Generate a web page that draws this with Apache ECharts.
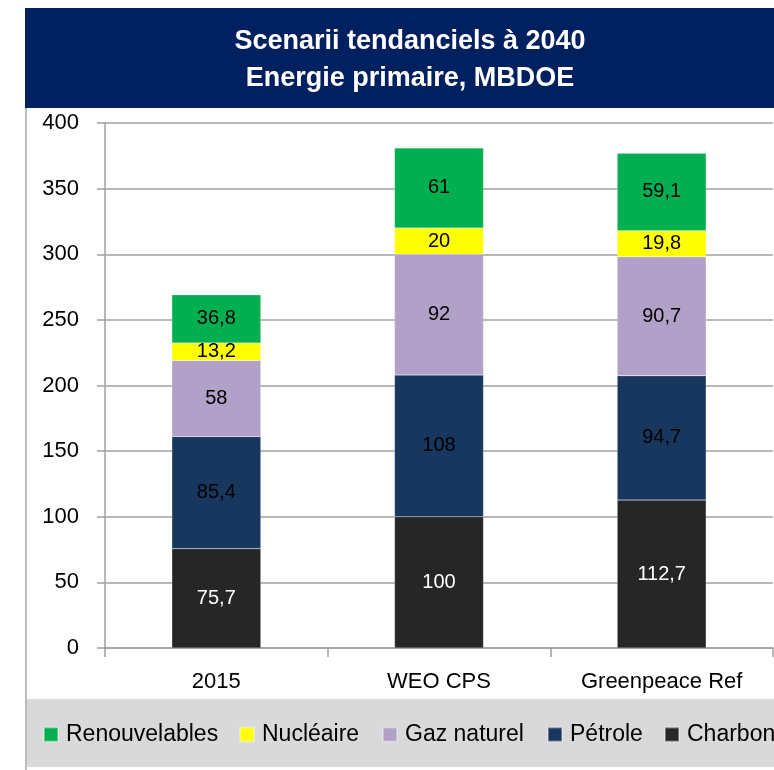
<!DOCTYPE html>
<html>
<head>
<meta charset="utf-8">
<script src="https://cdn.jsdelivr.net/npm/echarts@6/dist/echarts.min.js"></script>
<style>
html,body{margin:0;padding:0;background:#fff;}
#chart{width:774px;height:770px;}
</style>
</head>
<body>
<div id="chart"></div>
<script>
const categories = ['2015', 'WEO CPS', 'Greenpeace Ref'];
const charbon = [75.7, 100, 112.7];
const petrole = [85.4, 108, 94.7];
const gaz = [58, 92, 90.7];
const nucleaire = [13.2, 20, 19.8];
const renouvelables = [36.8, 61, 59.1];
const yTicks = [0, 50, 100, 150, 200, 250, 300, 350, 400];

const FONT = 'Liberation Sans';
const chart = echarts.init(document.getElementById('chart'));

function mk(name, data, color, labelColor) {
  return {
    name: name, type: 'bar', stack: 'total', data: data, barWidth: 89,
    itemStyle: { color: color, borderColor: 'rgba(255,255,255,0.35)', borderWidth: 0.5 },
    label: {
      show: true, position: 'inside', color: labelColor, fontFamily: FONT, fontSize: 20,
      formatter: p => String(p.value).replace('.', ',')
    },
    emphasis: { disabled: true }
  };
}

const legendPos = [
  ['Renouvelables', 43],
  ['Nucléaire', 239],
  ['Gaz naturel', 382],
  ['Pétrole', 547],
  ['Charbon', 664]
];

chart.setOption({
  animation: false,
  backgroundColor: '#fff',
  graphic: [
    { type: 'rect', shape: { x: 25, y: 8, width: 749, height: 100 }, style: { fill: '#002060' }, z: 0 },
    { type: 'rect', shape: { x: 27, y: 699, width: 747, height: 68 }, style: { fill: '#d9d9d9' }, z: 0 },
    { type: 'line', shape: { x1: 26, y1: 108, x2: 26, y2: 770 }, style: { stroke: '#a6a6a6', lineWidth: 1.5 }, z: 0 }
  ],
  title: {
    text: 'Scenarii tendanciels à 2040\nEnergie primaire, MBDOE',
    left: 405, textAlign: 'center', top: 18,
    textStyle: { color: '#fff', fontFamily: FONT, fontWeight: 'bold', fontSize: 27, lineHeight: 37 }
  },
  legend: legendPos.map(([n, x]) => ({
    data: [n], left: x, top: 723, padding: 0, itemGap: 0, itemWidth: 14, itemHeight: 14, icon: 'rect',
    textStyle: { fontFamily: FONT, fontSize: 23, color: '#000', padding: [0, 0, 0, 3] }, selectedMode: false
  })),
  grid: { left: 105, top: 123, right: 1, bottom: 122, containLabel: false },
  xAxis: {
    type: 'category', data: categories,
    axisLine: { lineStyle: { color: '#a0a0a0', width: 1.5 } },
    axisTick: { show: true, alignWithLabel: false, length: 9, lineStyle: { color: '#a0a0a0', width: 1.5 } },
    axisLabel: { color: '#000', fontFamily: FONT, fontSize: 22, margin: 23 }
  },
  yAxis: {
    type: 'value', min: 0, max: 400, interval: 50,
    axisLine: { show: true, lineStyle: { color: '#a0a0a0', width: 1.5 } },
    axisTick: { show: true, length: 8, lineStyle: { color: '#a0a0a0', width: 1.5 } },
    splitLine: { lineStyle: { color: '#a0a0a0', width: 1.5 } },
    axisLabel: { color: '#000', fontFamily: FONT, fontSize: 22, margin: 26,
      formatter: v => yTicks.includes(v) ? String(v) : '' }
  },
  series: [
    mk('Charbon', charbon, '#262626', '#fff'),
    mk('Pétrole', petrole, '#17375E', '#000'),
    mk('Gaz naturel', gaz, '#B1A0C7', '#000'),
    mk('Nucléaire', nucleaire, '#FFFF00', '#000'),
    mk('Renouvelables', renouvelables, '#00B050', '#000')
  ]
});
</script>
</body>
</html>
